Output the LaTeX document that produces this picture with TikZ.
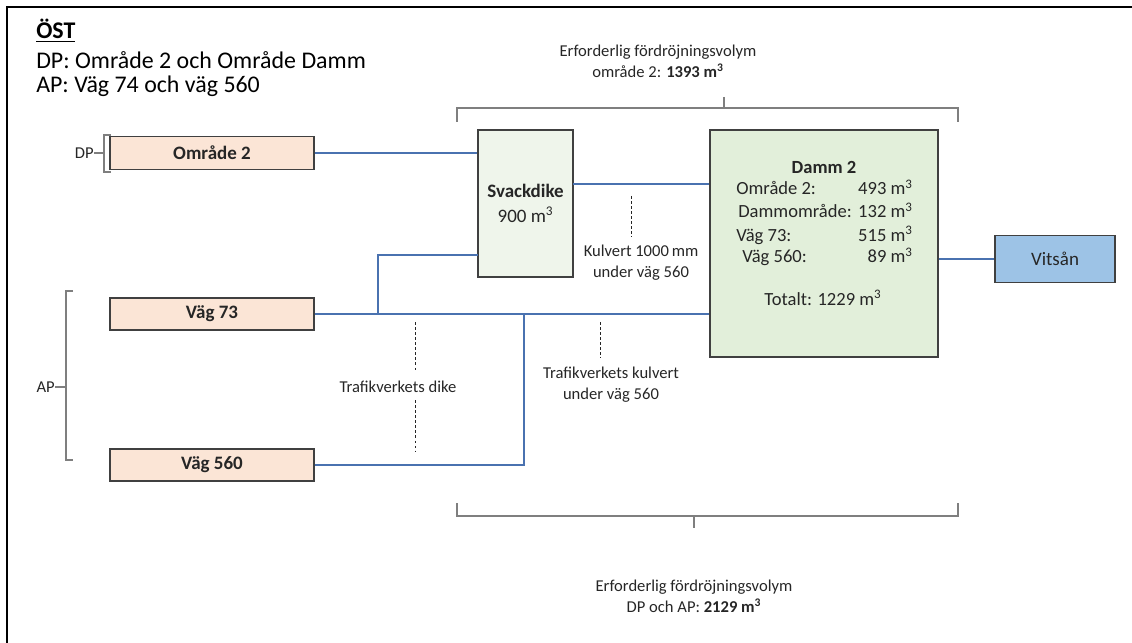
\documentclass[tikz,border=0pt]{standalone}
\usepackage{fontspec}
\setmainfont{Carlito}
\usepackage{tikz}
\usetikzlibrary{positioning}

\definecolor{peach}{HTML}{FBE5D6}
\definecolor{paleg}{HTML}{EFF5EB}
\definecolor{dammg}{HTML}{E2EFDA}
\definecolor{riverb}{HTML}{9DC3E6}
\definecolor{pipe}{HTML}{4A72B0}
\definecolor{edge}{HTML}{404040}
\definecolor{brk}{HTML}{7F7F7F}
\definecolor{txt}{HTML}{262626}

\begin{document}
\begin{tikzpicture}[x=0.025cm, y=-0.025cm,
		area/.style={draw=edge, line width=0.9pt, inner sep=0pt, text=txt,
			font=\fontsize{13.5}{16.5}\selectfont\bfseries},
		pipeline/.style={draw=pipe, line width=1.45pt},
		brace/.style={draw=brk, line width=0.8pt},
		note/.style={inner sep=0pt, text=txt, align=center,
			font=\fontsize{11.8}{15}\selectfont},
		dammtxt/.style={inner sep=0pt, text=txt, font=\fontsize{13.2}{16}\selectfont},
		lead/.style={draw=txt, line width=0.5pt, dash pattern=on 2pt off 1.6pt}]
		\useasboundingbox (0,0) rectangle (1132,643);
		\draw [line width=1.6pt] (7,643) -- (7,7) -- (1132,7);

		% rubrik
		\node [anchor=base west, inner sep=0, font=\fontsize{17}{20}\selectfont\bfseries] (ost) at (36,39) {\underline{ÖST}};
		\node [anchor=base west, inner sep=0, font=\fontsize{17}{20}\selectfont] (dprow) at (36,69) {DP: Område 2 och Område Damm};
		\node [anchor=base west, inner sep=0, font=\fontsize{17}{20}\selectfont] (aprow) at (36,93) {AP: Väg 74 och väg 560};

		% delområden
		\node [area, fill=peach, minimum width=5.1cm, minimum height=0.825cm] (omr) at (212,153) {Område 2};
		\node [area, fill=peach, minimum width=5.1cm, minimum height=0.8cm] (v73) at (212,314) {Väg 73};
		\node [area, fill=peach, minimum width=5.1cm, minimum height=0.8cm] (v560) at (212,465) {Väg 560};

		\node [area, fill=paleg, minimum width=2.375cm, minimum height=3.675cm, align=center] (svack) at (525.5,203.5)
			{Svackdike\\[1pt]{\mdseries 900 m\textsuperscript{3}}};
		\node [area, fill=dammg, minimum width=5.7cm, minimum height=5.675cm] (damm) at (824,243.5) {};
		\node [area, fill=riverb, minimum width=3cm, minimum height=1.175cm, font=\fontsize{13.5}{16}\selectfont] (vits) at (1055,259) {Vitsån};

		% damm 2
		\node [dammtxt, anchor=base, font=\fontsize{13.2}{16}\selectfont\bfseries] (dtitle) at (824,174) {Damm 2};
		\node [dammtxt, anchor=base west] (d1) at (736,195) {Område 2:};
		\node [dammtxt, anchor=base east] (d1v) at (913,195) {493 m\textsuperscript{3}};
		\node [dammtxt, anchor=base west] (d2) at (738,218) {Dammområde:};
		\node [dammtxt, anchor=base east] (d2v) at (913,218) {132 m\textsuperscript{3}};
		\node [dammtxt, anchor=base west] (d3) at (736,241) {Väg 73:};
		\node [dammtxt, anchor=base east] (d3v) at (913,241) {515 m\textsuperscript{3}};
		\node [dammtxt, anchor=base west] (d4) at (742,263) {Väg 560:};
		\node [dammtxt, anchor=base east] (d4v) at (913,263) {89 m\textsuperscript{3}};
		\node [dammtxt, anchor=base] (dtot) at (823,305) {Totalt: 1229 m\textsuperscript{3}};

		% ledningar
		\coordinate (s1) at (573,184);
		\coordinate (s2) at (478,255);
		\coordinate (j1) at (378,314);
		\coordinate (j2) at (524,314);
		\draw [pipeline] (omr.east) -- (omr.east -| svack.west);
		\draw [pipeline] (s1) -- (s1 -| damm.west);
		\draw [pipeline] (s2) -| (j1);
		\draw [pipeline] (v73.east) -- (v73.east -| damm.west);
		\draw [pipeline] (v560.east) -| (j2);
		\draw [pipeline] (vits.west -| damm.east) -- (vits.west);

		% klamrar
		\node [note, anchor=east] (dplbl) at (94,153) {DP};
		\draw [brace] (dplbl.east) -- (104,153);
		\draw [brace] (111,135) -- (104,135) -- (104,172) -- (111,172);
		\node [note, anchor=east] (aplbl) at (55,387) {AP};
		\draw [brace] (aplbl.east) -- (66,387);
		\draw [brace] (73,291) -- (66,291) -- (66,460) -- (73,460);

		\draw [brace] (457,122) -- (457,108) -- (958,108) -- (958,122);
		\draw [brace] (724,97) -- (724,108);
		\node [note] (topvol) at (658,61) {Erforderlig fördröjningsvolym\\område 2: \textbf{1393 m\textsuperscript{3}}};

		\draw [brace] (457,503) -- (457,516) -- (958,516) -- (958,503);
		\draw [brace] (694,516) -- (694,528);
		\node [note] (botvol) at (694,596) {Erforderlig fördröjningsvolym\\DP och AP: \textbf{2129 m\textsuperscript{3}}};

		% kulvertar och dike
		\node [note] (kulv) at (641,263) {Kulvert 1000\,mm\\under väg 560};
		\draw [lead] (631,196) -- (631,237);
		\node [note] (dike) at (398,387) {Trafikverkets dike};
		\draw [lead] (415,322) -- (415,372);
		\draw [lead] (415,400) -- (415,452);
		\node [note] (tvkulv) at (611,385) {Trafikverkets kulvert\\under väg 560};
		\draw [lead] (600,322) -- (600,358);

	\end{tikzpicture}
\end{document}
